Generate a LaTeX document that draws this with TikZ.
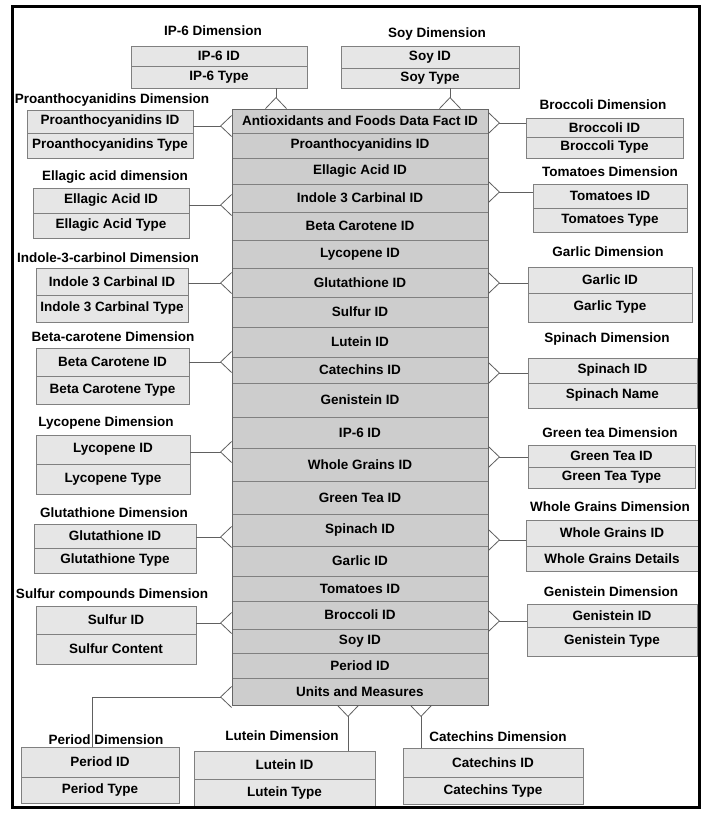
\documentclass[tikz,border=0pt]{standalone}
\usepackage{fontspec}
\setmainfont{Liberation Sans}
\usetikzlibrary{positioning,arrows.meta}

\definecolor{dimfill}{HTML}{E6E6E6}
\definecolor{factfill}{HTML}{CDCDCD}
\definecolor{boxline}{HTML}{808080}
\definecolor{linkline}{HTML}{606060}

\tikzstyle{dim row} = [draw=boxline, fill=dimfill, line width=0.8pt, inner sep=0pt, outer sep=0pt]
\tikzstyle{fact row} = [draw=boxline, fill=factfill, line width=0.8pt, minimum width=256pt, inner sep=0pt, outer sep=0pt]
\tikzstyle{dim title} = [inner sep=0pt]
\tikzstyle{crow} = [draw=linkline, line width=0.8pt, -{Straight Barb[reversed,length=11pt,width=21pt]}]

\begin{document}
\begin{tikzpicture}[x=1pt, y=-1pt, font=\bfseries\fontsize{13.5}{15}\selectfont]
  \useasboundingbox (0,0) rectangle (717,828);

  % fact table
  \foreach \n/\y/\h/\lbl in {f1/121/24/Antioxidants and Foods Data Fact ID, f2/145.5/25/Proanthocyanidins ID,
      f3/171/26/Ellagic Acid ID, f4/198/28/Indole 3 Carbinal ID, f5/226/28/Beta Carotene ID,
      f6/254/28/Lycopene ID, f7/282.5/29/Glutathione ID, f8/312/30/Sulfur ID, f9/342/30/Lutein ID,
      f10/370/26/Catechins ID, f11/400/34/Genistein ID, f12/432.5/31/IP-6 ID, f13/464.5/33/Whole Grains ID,
      f14/497.5/33/Green Tea ID, f15/530/32/Spinach ID, f16/561/30/Garlic ID, f17/588.5/25/Tomatoes ID,
      f18/615/28/Broccoli ID, f19/641/24/Soy ID, f20/665.5/25/Period ID, f21/691.5/27/Units and Measures} {
      \node[fact row, minimum height=\h pt] (\n) at (360,\y) {\lbl};
  }
  \draw[draw=boxline!80!black, line width=0.8pt] (f1.north west) rectangle (f21.south east);

  % dimension tables
  \foreach \n/\xa/\ya/\bw/\ha/\hb/\ra/\rb/\ti/\tx/\ty in {
      ip6/131/46/176/20/22/IP-6 ID/IP-6 Type/IP-6 Dimension/213/31,
      pro/27/110/166/23/25/Proanthocyanidins ID/Proanthocyanidins Type/Proanthocyanidins Dimension/112/100,
      ell/33/188/156/25/25/Ellagic Acid ID/Ellagic Acid Type/Ellagic acid dimension/115/177,
      ind/36/268/152/27/27/Indole 3 Carbinal ID/Indole 3 Carbinal Type/Indole-3-carbinol Dimension/108/258,
      bet/36/348/153/28/28/Beta Carotene ID/Beta Carotene Type/Beta-carotene Dimension/113/337,
      lyc/36/435/154/29/30/Lycopene ID/Lycopene Type/Lycopene Dimension/106/423,
      glu/34/524/162/24/25/Glutathione ID/Glutathione Type/Glutathione Dimension/114/513,
      sul/36/606/160/28/30/Sulfur ID/Sulfur Content/Sulfur compounds Dimension/112/595,
      per/21/747/158/30/26/Period ID/Period Type/Period Dimension/106/740,
      lut/194/751/181/28/28/Lutein ID/Lutein Type/Lutein Dimension/282/736,
      cat/403/748/180/29/27/Catechins ID/Catechins Type/Catechins Dimension/498/737,
      soy/341/46/178/22/20/Soy ID/Soy Type/Soy Dimension/437/34,
      bro/526/118/157/19/21/Broccoli ID/Broccoli Type/Broccoli Dimension/603/105,
      tom/533/184/154/24/24/Tomatoes ID/Tomatoes Type/Tomatoes Dimension/610/172,
      gar/528/267/164/26/29/Garlic ID/Garlic Type/Garlic Dimension/608/252,
      spi/528/358/169/25/25/Spinach ID/Spinach Name/Spinach Dimension/607/339,
      grt/528/445/167/22/21/Green Tea ID/Green Tea Type/Green tea Dimension/610/433,
      whg/526/520/172/26/25/Whole Grains ID/Whole Grains Details/Whole Grains Dimension/610/507,
      gen/527/604/170/23/29/Genistein ID/Genistein Type/Genistein Dimension/611/592} {
      \node[dim row, anchor=north west, minimum width=\bw pt, minimum height=\ha pt] (\n-id) at (\xa,\ya) {\ra};
      \node[dim row, minimum width=\bw pt, minimum height=\hb pt, below=0pt of \n-id] (\n-ty) {\rb};
      \node[dim title] (\n-ti) at (\tx,\ty) {\ti};
  }

  % links to the fact table
  \foreach \n/\dy in {pro/-4.5, ell/-4.5, ind/-1.5, bet/0, lyc/-2.5, glu/-1, sul/-3} {
      \draw[crow] ([yshift=\dy pt]\n-id.east) -- ([yshift=\dy pt]\n-id.east -| f1.west);
  }
  \foreach \n/\dy in {bro/4.5, tom/4, gar/-3, spi/-2.5, grt/-1, whg/-7, gen/-5.5} {
      \draw[crow] ([yshift=\dy pt]\n-id.west) -- ([yshift=\dy pt]\n-id.west -| f1.east);
  }
  \draw[crow] ([xshift=-31pt]ip6-ty.south east) -- ([xshift=-31pt]ip6-ty.south east |- f1.north);
  \draw[crow] ([xshift=20pt]soy-ty.south) -- ([xshift=20pt]soy-ty.south |- f1.north);
  \draw[crow] ([xshift=-27pt]lut-id.north east) -- ([xshift=-27pt]lut-id.north east |- f21.south);
  \draw[crow] ([xshift=18pt]cat-id.north west) -- ([xshift=18pt]cat-id.north west |- f21.south);
  \draw[crow] ([xshift=71pt]per-id.north west) |- ([yshift=-5.5pt]f21.west);

  % frame
  \draw[line width=3pt] (12.5,6.5) rectangle (699.5,807.5);
\end{tikzpicture}
\end{document}
